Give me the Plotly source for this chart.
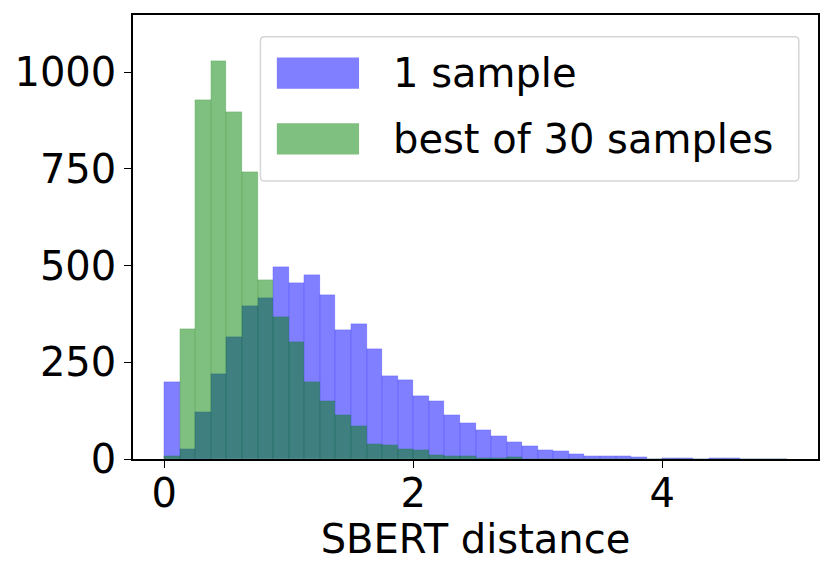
import plotly.graph_objects as go
import numpy as np

# histogram bins (SBERT distance), 40 bins of width 0.125 starting at 0
bin_start = 0.0
bin_width = 0.125

one_sample = [198, 27, 122, 221, 316, 396, 417, 497, 456, 477,
              423, 333, 348, 284, 214, 205, 163, 149, 114, 94,
              76, 60, 44, 34, 22, 20, 14, 9, 9, 7,
              6, 0, 3, 3, 0, 3, 3, 0, 0, 0]
best_of_30 = [8, 337, 929, 1029, 896, 743, 463, 367, 302, 198,
              150, 114, 85, 38, 36, 26, 22, 11, 8, 8,
              2, 2, 4, 0, 0, 0, 0, 0, 0, 0,
              0, 0, 0, 0, 0, 0, 0, 0, 0, 0]

series_names = ["1 sample", "best of 30 samples"]
series_colors = ["rgba(0,0,255,0.5)", "rgba(0,128,0,0.5)"]

x_ticks = [0, 2, 4]
y_ticks = [0, 250, 500, 750, 1000]

left_edges = bin_start + bin_width * np.arange(len(one_sample))

FONT = "DejaVu Sans"

fig = go.Figure()
for vals, name, col in zip([one_sample, best_of_30], series_names, series_colors):
    fig.add_trace(go.Bar(x=left_edges, y=vals, width=bin_width, offset=0,
                         name=name, marker=dict(color=col, line=dict(width=0.25, color=col)),
                         showlegend=False))

# custom legend drawn as shapes so the patches match the matplotlib look
def rounded_box(x0, y0, x1, y1, rx, ry):
    return (f"M {x0+rx},{y0} L {x1-rx},{y0} Q {x1},{y0} {x1},{y0+ry} "
            f"L {x1},{y1-ry} Q {x1},{y1} {x1-rx},{y1} L {x0+rx},{y1} "
            f"Q {x0},{y1} {x0},{y1-ry} L {x0},{y0+ry} Q {x0},{y0} {x0+rx},{y0} Z")

shapes = [dict(type="path", xref="paper", yref="paper",
               path=rounded_box(0.186, 0.626, 0.972, 0.951, 0.006, 0.009),
               fillcolor="rgba(255,255,255,0.8)", line=dict(color="#d6d6d6", width=1.5))]
annotations = []
for i, (name, col) in enumerate(zip(series_names, series_colors)):
    yc = 0.869 - i * 0.148
    shapes.append(dict(type="rect", xref="paper", yref="paper",
                       x0=0.210, x1=0.330, y0=yc - 0.035, y1=yc + 0.035,
                       fillcolor=col, line=dict(width=0)))
    annotations.append(dict(xref="paper", yref="paper", x=0.376, y=yc,
                            text=name, showarrow=False, xanchor="left", yanchor="middle",
                            font=dict(family=FONT, size=40, color="black")))

axis_common = dict(showline=True, linecolor="black", linewidth=1.5, mirror=True,
                   ticks="outside", ticklen=7, tickwidth=1.3, tickcolor="black",
                   showgrid=False, zeroline=False, automargin=False,
                   tickfont=dict(family=FONT, size=40, color="black"))

fig.update_layout(
    width=831, height=575,
    barmode="overlay", bargap=0,
    plot_bgcolor="white", paper_bgcolor="white",
    margin=dict(l=133, r=13, t=15, b=116),
    xaxis=dict(range=[-0.25, 5.25], tickvals=x_ticks, ticklabelstandoff=-9,
               title=dict(text="SBERT distance", standoff=0,
                          font=dict(family=FONT, size=40, color="black")),
               **axis_common),
    yaxis=dict(range=[0, 1148], tickvals=y_ticks, **axis_common),
    shapes=shapes, annotations=annotations,
)

fig.write_html("out.html", config={"displayModeBar": False},
               post_script="document.body.style.margin='0px';")
